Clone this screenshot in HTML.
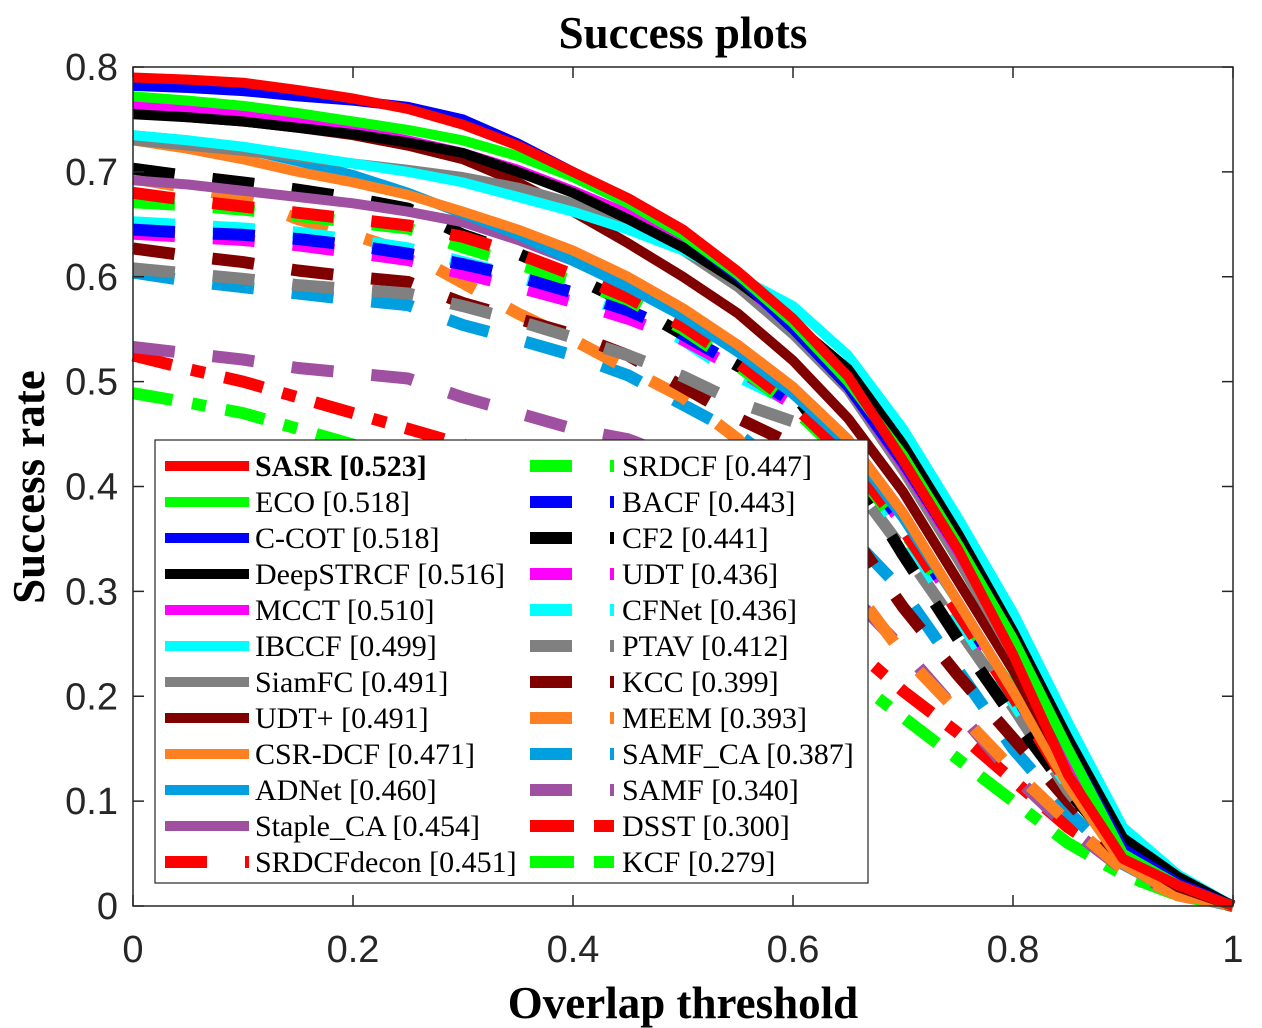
<!DOCTYPE html>
<html><head><meta charset="utf-8"><style>
body{margin:0;background:#fff;}
svg{display:block;}
</style></head><body>
<svg id="chart" width="1262" height="1028" xmlns="http://www.w3.org/2000/svg">
<rect width="1262" height="1028" fill="#fff"/>
<text x="683" y="48" text-anchor="middle" font-family="Liberation Serif, serif" font-weight="bold" font-size="45">Success plots</text>
<g id="plot"></g>
<g id="axes"></g>
<text x="683" y="1018" text-anchor="middle" font-family="Liberation Serif, serif" font-weight="bold" font-size="45">Overlap threshold</text>
<text transform="translate(44,487) rotate(-90)" text-anchor="middle" font-family="Liberation Serif, serif" font-weight="bold" font-size="45">Success rate</text>
<g id="legend"></g>
</svg>
<script>
const xs=[0,0.05,0.1,0.15,0.2,0.25,0.3,0.35,0.4,0.45,0.5,0.55,0.6,0.65,0.7,0.75,0.8,0.85,0.9,0.95,1];
const names=["SASR","ECO","C-COT","DeepSTRCF","MCCT","IBCCF","SiamFC","UDT+","CSR-DCF","ADNet","Staple_CA","SRDCFdecon","SRDCF","BACF","CF2","UDT","CFNet","PTAV","KCC","MEEM","SAMF_CA","SAMF","DSST","KCF"];
const scores=["0.523","0.518","0.518","0.516","0.510","0.499","0.491","0.491","0.471","0.460","0.454","0.451","0.447","0.443","0.441","0.436","0.436","0.412","0.399","0.393","0.387","0.340","0.300","0.279"];
const sSASR=[0.790,0.788,0.785,0.778,0.770,0.760,0.745,0.725,0.700,0.675,0.645,0.605,0.560,0.505,0.425,0.340,0.240,0.125,0.045,0.020,0];
const sECO=[0.772,0.768,0.763,0.756,0.748,0.740,0.730,0.715,0.695,0.670,0.640,0.602,0.556,0.500,0.430,0.345,0.255,0.150,0.050,0.020,0];
const sCCOT=[0.782,0.780,0.777,0.772,0.768,0.762,0.750,0.727,0.700,0.672,0.640,0.600,0.550,0.495,0.422,0.340,0.250,0.150,0.055,0.022,0];
const sDeepSTRCF=[0.755,0.752,0.748,0.742,0.736,0.728,0.718,0.700,0.680,0.655,0.628,0.595,0.556,0.512,0.440,0.355,0.262,0.160,0.065,0.028,0];
const sMCCT=[0.765,0.760,0.755,0.748,0.740,0.730,0.718,0.702,0.682,0.660,0.632,0.596,0.552,0.495,0.420,0.338,0.245,0.145,0.055,0.020,0];
const sIBCCF=[0.735,0.730,0.724,0.716,0.708,0.700,0.690,0.676,0.662,0.645,0.625,0.600,0.572,0.525,0.455,0.370,0.280,0.175,0.075,0.030,0];
const sSiamFC=[0.730,0.725,0.720,0.714,0.708,0.702,0.695,0.685,0.670,0.650,0.625,0.590,0.545,0.492,0.415,0.330,0.240,0.140,0.055,0.025,0];
const sUDTp=[0.757,0.752,0.748,0.742,0.735,0.725,0.712,0.690,0.662,0.632,0.600,0.565,0.520,0.465,0.395,0.310,0.225,0.130,0.050,0.018,0];
const sCSRDCF=[0.730,0.722,0.712,0.700,0.690,0.678,0.662,0.645,0.625,0.600,0.570,0.535,0.495,0.445,0.375,0.290,0.205,0.115,0.040,0.010,0];
const sADNet=[0.735,0.730,0.722,0.710,0.697,0.680,0.660,0.640,0.615,0.590,0.562,0.528,0.488,0.440,0.370,0.290,0.205,0.118,0.042,0.012,0];
const sStapleCA=[0.692,0.688,0.682,0.676,0.670,0.662,0.652,0.635,0.615,0.592,0.565,0.535,0.495,0.445,0.375,0.290,0.205,0.120,0.045,0.012,0];
const sSRDCFdecon=[0.680,0.673,0.667,0.661,0.655,0.649,0.638,0.622,0.602,0.580,0.553,0.518,0.478,0.428,0.360,0.280,0.200,0.115,0.045,0.015,0];
const sSRDCF=[0.671,0.668,0.664,0.658,0.652,0.646,0.628,0.612,0.596,0.578,0.550,0.515,0.475,0.425,0.358,0.285,0.205,0.120,0.050,0.015,0];
const sBACF=[0.645,0.642,0.640,0.636,0.630,0.622,0.612,0.600,0.585,0.568,0.545,0.515,0.480,0.435,0.365,0.285,0.205,0.120,0.048,0.015,0];
const sCF2=[0.703,0.696,0.690,0.683,0.675,0.665,0.640,0.622,0.600,0.575,0.545,0.515,0.490,0.420,0.335,0.255,0.180,0.110,0.050,0.020,0];
const sUDT=[0.641,0.638,0.635,0.630,0.623,0.616,0.603,0.590,0.576,0.560,0.540,0.512,0.478,0.432,0.365,0.285,0.205,0.120,0.048,0.015,0];
const sCFNet=[0.652,0.649,0.646,0.642,0.635,0.627,0.614,0.600,0.585,0.566,0.540,0.505,0.480,0.430,0.355,0.275,0.195,0.115,0.045,0.015,0];
const sPTAV=[0.608,0.603,0.598,0.592,0.588,0.584,0.572,0.558,0.542,0.525,0.505,0.480,0.462,0.410,0.340,0.265,0.190,0.110,0.045,0.018,0];
const sKCC=[0.627,0.620,0.614,0.606,0.600,0.595,0.575,0.560,0.545,0.525,0.495,0.465,0.440,0.360,0.285,0.220,0.160,0.100,0.045,0.015,0];
const sMEEM=[0.694,0.685,0.675,0.655,0.640,0.623,0.594,0.565,0.540,0.512,0.485,0.445,0.385,0.310,0.240,0.185,0.130,0.080,0.035,0.010,0];
const sSAMFCA=[0.604,0.596,0.590,0.584,0.578,0.573,0.554,0.540,0.525,0.506,0.478,0.450,0.410,0.355,0.300,0.225,0.150,0.090,0.040,0.012,0];
const sSAMF=[0.533,0.527,0.521,0.513,0.508,0.503,0.485,0.470,0.455,0.445,0.425,0.395,0.350,0.300,0.245,0.185,0.125,0.075,0.035,0.012,0];
const sDSST=[0.525,0.512,0.500,0.485,0.470,0.455,0.440,0.420,0.400,0.375,0.350,0.320,0.290,0.250,0.205,0.165,0.120,0.075,0.040,0.015,0];
const sKCF=[0.489,0.480,0.470,0.455,0.440,0.420,0.400,0.380,0.360,0.335,0.310,0.285,0.255,0.220,0.180,0.140,0.100,0.060,0.030,0.010,0];
const xTicks=["0","0.2","0.4","0.6","0.8","1"];
const yTicks=["0","0.1","0.2","0.3","0.4","0.5","0.6","0.7","0.8"];

const series=[sSASR,sECO,sCCOT,sDeepSTRCF,sMCCT,sIBCCF,sSiamFC,sUDTp,sCSRDCF,sADNet,sStapleCA,sSRDCFdecon,sSRDCF,sBACF,sCF2,sUDT,sCFNet,sPTAV,sKCC,sMEEM,sSAMFCA,sSAMF,sDSST,sKCF];
const colors=["#ff0000","#00ff00","#0000ff","#000000","#ff00ff","#00ffff","#808080","#800000","#ff8020","#00a0e0","#a050a0","#ff0000","#00ff00","#0000ff","#000000","#ff00ff","#00ffff","#808080","#800000","#ff8020","#00a0e0","#a050a0","#ff0000","#00ff00"];
const X0=133,X1=1233,Y0=906,Y1=67;
const sx=v=>X0+v*(X1-X0);
const sy=v=>Y0-v*(Y0-Y1)/0.8;
const NS="http://www.w3.org/2000/svg";
const plot=document.getElementById('plot');
function mk(tag,attrs,parent){const e=document.createElementNS(NS,tag);for(const k in attrs)e.setAttribute(k,attrs[k]);parent.appendChild(e);return e;}
const order=[];
for(let i=23;i>=11;i--)order.push(i);
for(let i=10;i>=0;i--)order.push(i);
order.forEach(i=>{
  const pts=series[i].map((v,j)=>sx(xs[j]).toFixed(1)+","+sy(v).toFixed(1)).join(" ");
  const dashed=i>=11;
  const p=mk('polyline',{points:pts,fill:'none',stroke:colors[i],'stroke-width':dashed?12:10,'stroke-linejoin':'round'},plot);
  if(dashed)p.setAttribute('stroke-dasharray',(i>=22)?'40 20 14 20':'42 38');
  
  
});
const axes=document.getElementById('axes');
const box=mk('rect',{x:X0,y:Y1,width:X1-X0,height:Y0-Y1,fill:'none',stroke:'#262626','stroke-width':1.5},axes);


xTicks.forEach((t,i)=>{
  const v=i*0.2,x=sx(v);
  mk('line',{x1:x,y1:Y0,x2:x,y2:Y0-11,stroke:'#262626','stroke-width':1.5},axes);
  mk('line',{x1:x,y1:Y1,x2:x,y2:Y1+11,stroke:'#262626','stroke-width':1.5},axes);
  const tx=mk('text',{x:x,y:962,'text-anchor':'middle','font-family':'Liberation Sans, sans-serif','font-size':38,fill:'#262626'},axes);
  tx.textContent=t;
  
  
});
yTicks.forEach((t,i)=>{
  const v=i*0.1,y=sy(v);
  mk('line',{x1:X0,y1:y,x2:X0+11,y2:y,stroke:'#262626','stroke-width':1.5},axes);
  mk('line',{x1:X1,y1:y,x2:X1-11,y2:y,stroke:'#262626','stroke-width':1.5},axes);
  const ty=mk('text',{x:118,y:y+13,'text-anchor':'end','font-family':'Liberation Sans, sans-serif','font-size':38,fill:'#262626'},axes);
  ty.textContent=t;
  
  
});
const lg=document.getElementById('legend');
const lbox=mk('rect',{x:155,y:440,width:713,height:443,fill:'#fff',stroke:'#262626','stroke-width':1.2},lg);


for(let i=0;i<24;i++){
  const col=i<12?0:1,row=i%12;
  const y=466+row*36;
  const lx=col?530:165, tx=col?622:255;
  const dashed=i>=11;
  const g=mk('g',{},lg);
  
  
  const ln=mk('line',{x1:lx,y1:y,x2:lx+84,y2:y,stroke:colors[i],'stroke-width':dashed?12:10},g);
  if(dashed)ln.setAttribute('stroke-dasharray',i>=22?'44 20 20 100':'42 38');
  const t=mk('text',{x:tx,y:y+10,'font-family':'Liberation Serif, serif','font-size':30,fill:'#000'},g);
  if(i===0){t.innerHTML='<tspan font-weight="bold">SASR [0.523]</tspan>';}
  else t.textContent=names[i]+' ['+scores[i]+']';
}
</script>
</body></html>
